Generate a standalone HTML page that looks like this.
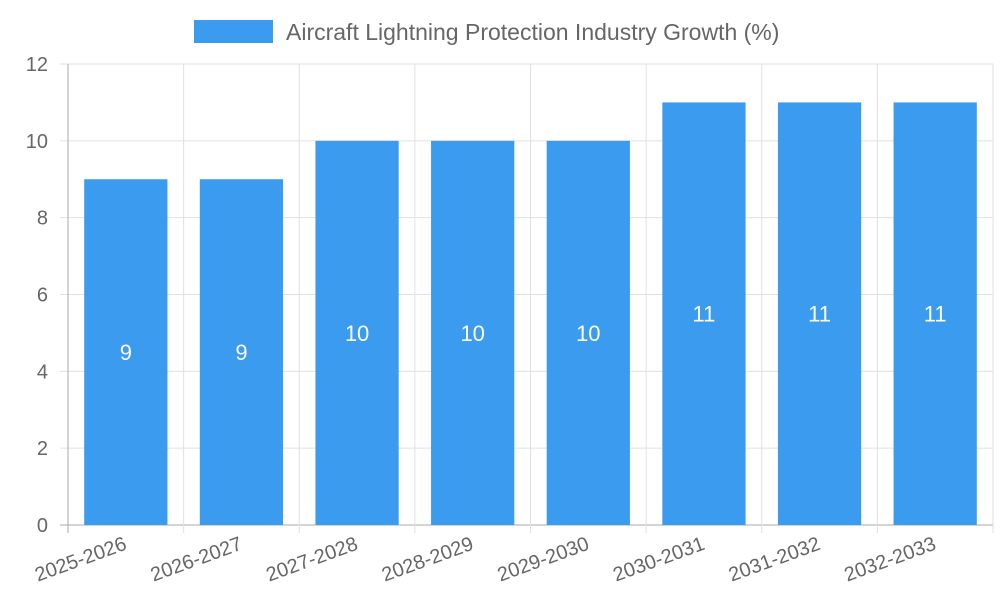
<!DOCTYPE html>
<html><head><meta charset="utf-8"><style>
body{margin:0;background:#fff;}
svg{display:block;font-family:"Liberation Sans",sans-serif;}
</style></head><body>
<svg id="chart" width="1000" height="600">
<g>
<rect x="194" y="20" width="79" height="23" fill="#3a9bef"></rect>
<text x="286" y="40" font-size="23" fill="#666">Aircraft Lightning Protection Industry Growth (%)</text>
</g>
</svg>
<script>
const categories=["2025-2026","2026-2027","2027-2028","2028-2029","2029-2030","2030-2031","2031-2032","2032-2033"];
const values=[9,9,10,10,10,11,11,11];
const yTicks=[0,2,4,6,8,10,12];
const svg=document.getElementById('chart');
const NS='http://www.w3.org/2000/svg';
const L=68,R=993,T=64,B=525,yMax=12;
const bw=(R-L)/categories.length;
const x=i=>L+i*bw;
const y=v=>B-(v/yMax)*(B-T);
function mk(t,a,txt){const e=document.createElementNS(NS,t);for(const k in a)e.setAttribute(k,a[k]);if(txt!==undefined)e.textContent=txt;svg.appendChild(e);return e;}
yTicks.forEach(v=>{
 const g=mk('line',{x1:L-8,x2:R,y1:y(v),y2:y(v),stroke:v===0?'#aaa':'#e0e0e0','stroke-width':1});
 
 
 const t=mk('text',{x:L-20,y:y(v)+7,'font-size':20,fill:'#666','text-anchor':'end'},v);
 
 
});
for(let i=0;i<=categories.length;i++){
 const g=mk('line',{x1:x(i),x2:x(i),y1:T,y2:B+8,stroke:i===0?'#aaa':'#e0e0e0','stroke-width':1});
 
 
}
categories.forEach((c,i)=>{
 const cx=x(i)+bw/2, w=bw*0.72;
 const r=mk('rect',{x:cx-w/2,y:y(values[i]),width:w,height:B-y(values[i]),fill:'#3a9bef'});
 
 
 const vt=mk('text',{x:cx,y:(y(values[i])+B)/2+8,'font-size':22,fill:'#fff','text-anchor':'middle'},values[i]);
 
 
 const lt=mk('text',{x:cx+2,y:B+24,'font-size':20,fill:'#666','text-anchor':'end',transform:`rotate(-20 ${cx+2} ${B+24})`},c);
 
 
});
</script>
</body></html>
